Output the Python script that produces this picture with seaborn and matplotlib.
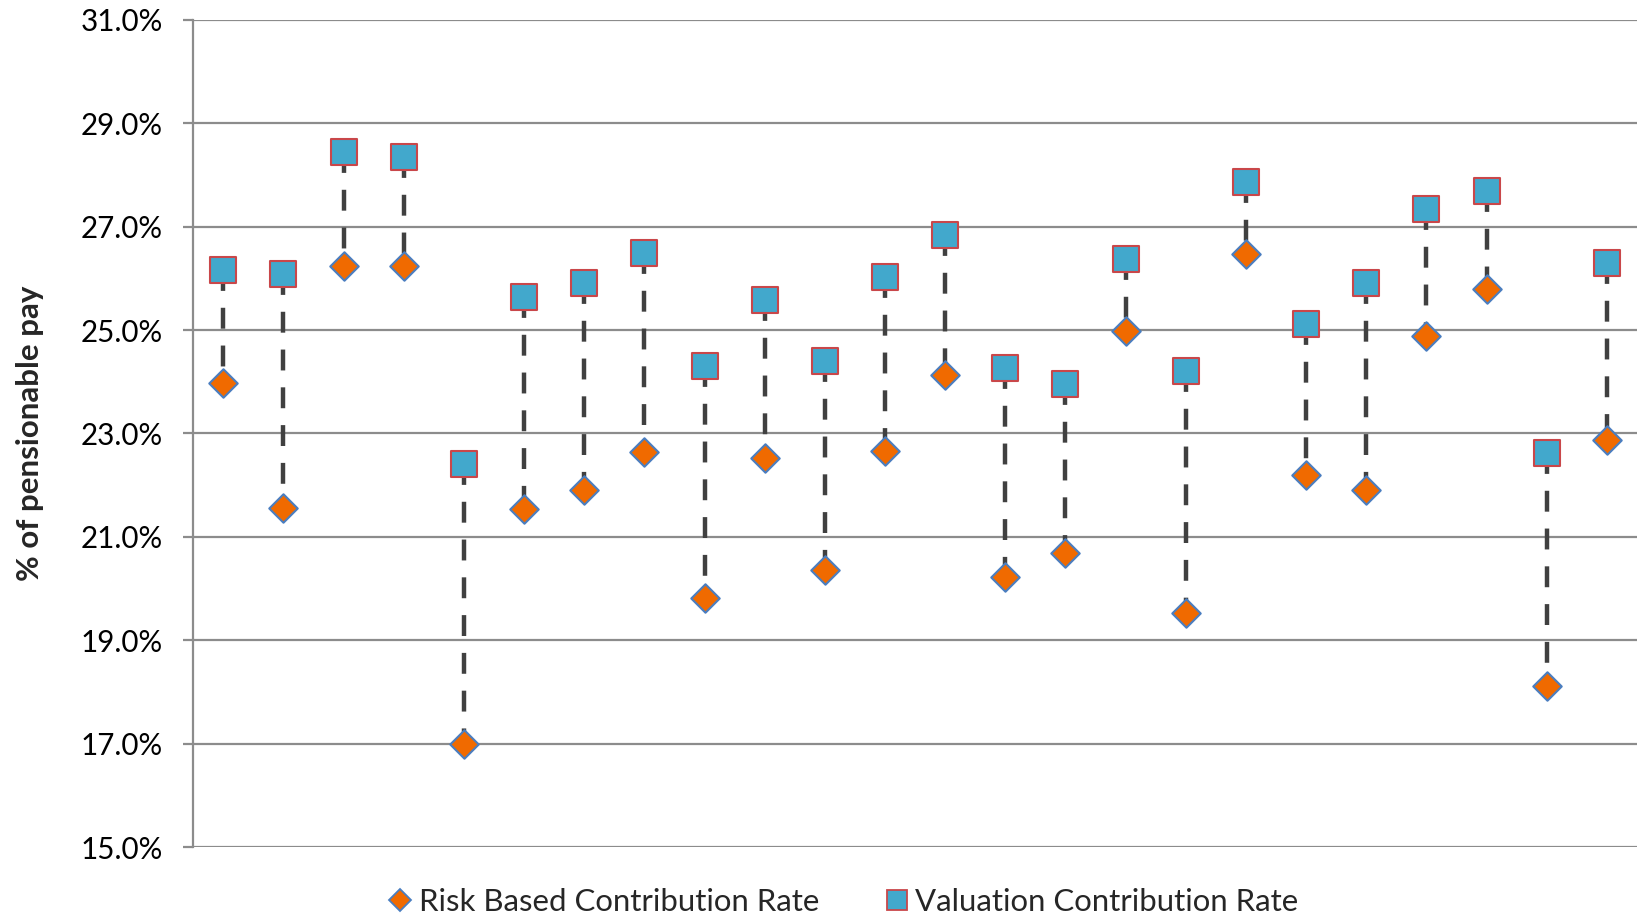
import matplotlib
matplotlib.use("Agg")
import matplotlib.pyplot as plt
from matplotlib.lines import Line2D
from matplotlib.ticker import FuncFormatter
import numpy as np
import pandas as pd
import seaborn as sns

# Contribution rates (% of pensionable pay) for each of the 24 funds
funds = list(range(1, 25))
valuation_rate = [26.17, 26.09, 28.45, 28.35, 22.41, 25.65, 25.91, 26.49,
                  24.31, 25.59, 24.41, 26.03, 26.84, 24.27, 23.95, 26.37,
                  24.21, 27.87, 25.12, 25.91, 27.34, 27.69, 22.62, 26.29]
risk_based_rate = [23.97, 21.55, 26.25, 26.25, 17.00, 21.53, 21.91, 22.64,
                   19.81, 22.52, 20.35, 22.66, 24.13, 20.23, 20.68, 24.98,
                   19.53, 26.47, 22.19, 21.91, 24.88, 25.79, 18.11, 22.88]
y_ticks = [15, 17, 19, 21, 23, 25, 27, 29, 31]

risk_label = "Risk Based Contribution Rate"
val_label = "Valuation Contribution Rate"

df = pd.DataFrame({
    "pos": np.arange(len(funds)),
    "risk": risk_based_rate,
    "val": valuation_rate,
})

sns.set_style("white")
plt.rcParams["font.family"] = ["Lato", "DejaVu Sans"]

ORANGE = "#F06A00"
ORANGE_EDGE = "#4A7EC0"
BLUE = "#42A8CC"
BLUE_EDGE = "#C9474A"
GRID = "#8C8C8C"

fig = plt.figure(figsize=(16.37, 9.16), dpi=100)
ax = fig.add_axes([0.118, 0.0753, 0.882, 0.9029])

# dashed connectors from valuation rate down to risk-based rate
ax.vlines(df["pos"], df["val"], df["risk"], colors="#404040",
          linewidth=3.2, linestyles=(0, (4.7, 3.8)), zorder=2)

sns.scatterplot(data=df, x="pos", y="val", marker="s", s=18.5 ** 2,
                color=BLUE, edgecolor=BLUE_EDGE, linewidth=1.5,
                ax=ax, zorder=3, legend=False)
sns.scatterplot(data=df, x="pos", y="risk", marker="D", s=14.5 ** 2,
                color=ORANGE, edgecolor=ORANGE_EDGE, linewidth=1.5,
                ax=ax, zorder=4, legend=False)

ax.set_xlim(-0.5, 23.5)
ax.set_ylim(15, 31)
ax.set_yticks(y_ticks)
ax.yaxis.set_major_formatter(FuncFormatter(lambda v, _: f"{v:.1f}%"))
ax.set_xticks([])
ax.set_xlabel("")
ax.set_ylabel("% of pensionable pay", fontsize=22.5, fontweight="bold",
              labelpad=26)

ax.grid(axis="y", color=GRID, linewidth=1.6, zorder=0)
ax.set_axisbelow(True)
for side in ["top", "right", "bottom"]:
    ax.spines[side].set_visible(False)
ax.spines["left"].set_color(GRID)
ax.spines["left"].set_linewidth(1.6)
ax.tick_params(axis="y", direction="out", length=7, width=1.6, color=GRID,
               pad=15, labelsize=21.3, labelcolor="black", left=True)

handles = [
    Line2D([], [], marker="D", linestyle="none", markersize=11,
           markerfacecolor=ORANGE, markeredgecolor=ORANGE_EDGE,
           markeredgewidth=1.3),
    Line2D([], [], marker="s", linestyle="none", markersize=14,
           markerfacecolor=BLUE, markeredgecolor=BLUE_EDGE,
           markeredgewidth=1.3),
]
fig.legend(handles, [risk_label, val_label], loc="center",
           bbox_to_anchor=(0.515, 0.015), ncol=2, frameon=False,
           fontsize=22.4, handlelength=0.8, handletextpad=0.2,
           columnspacing=2.1)

fig.savefig("out.png", dpi=100)
